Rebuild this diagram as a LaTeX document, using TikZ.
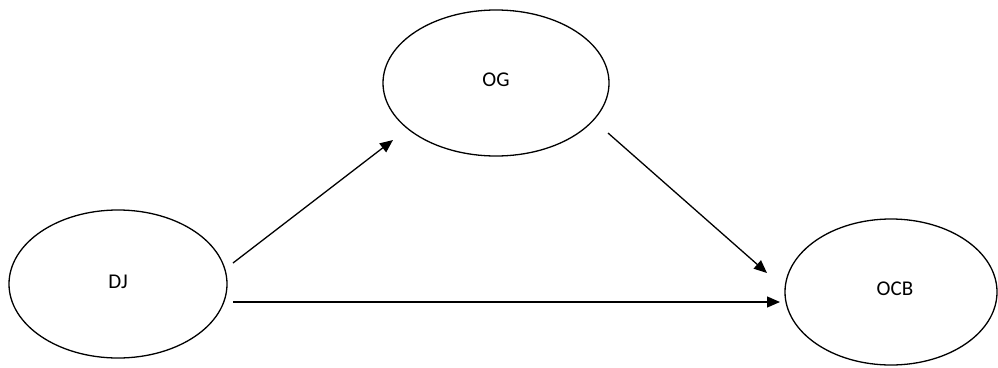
\documentclass[tikz,border=0pt]{standalone}
\usepackage{fontspec}
\setmainfont{Carlito}
\usetikzlibrary{arrows.meta,shapes.geometric}
\begin{document}
\begin{tikzpicture}[x=1pt,y=-1pt,
  latent/.style={draw=black,line width=1.3pt,ellipse,inner sep=0pt,
    font=\fontsize{21}{24}\selectfont},
  conn/.style={line width=1.3pt,-{Triangle[length=13pt,width=11pt]}}]
\useasboundingbox (0,0) rectangle (998,367);
\node[latent,minimum width=218pt,minimum height=148pt] (dj) at (118,284) {\raisebox{5pt}{DJ}};
\node[latent,minimum width=226pt,minimum height=146pt] (og) at (496,83) {\raisebox{6pt}{OG}};
\node[latent,minimum width=212pt,minimum height=146pt] (ocb) at (891,292) {\hspace*{8pt}\raisebox{6pt}{OCB}};
\coordinate (a1) at ([shift={(115,-21)}]dj.center);
\coordinate (b1) at ([shift={(-103,57)}]og.center);
\coordinate (a2) at ([shift={(112,50)}]og.center);
\coordinate (b2) at ([shift={(-124,-19)}]ocb.center);
\coordinate (a3) at ([shift={(115,18)}]dj.center);
\coordinate (b3) at ([shift={(-111,10)}]ocb.center);
\draw[conn] (a1) -- (b1);
\draw[conn] (a2) -- (b2);
\draw[conn] (a3) -- (b3);
\end{tikzpicture}
\end{document}
